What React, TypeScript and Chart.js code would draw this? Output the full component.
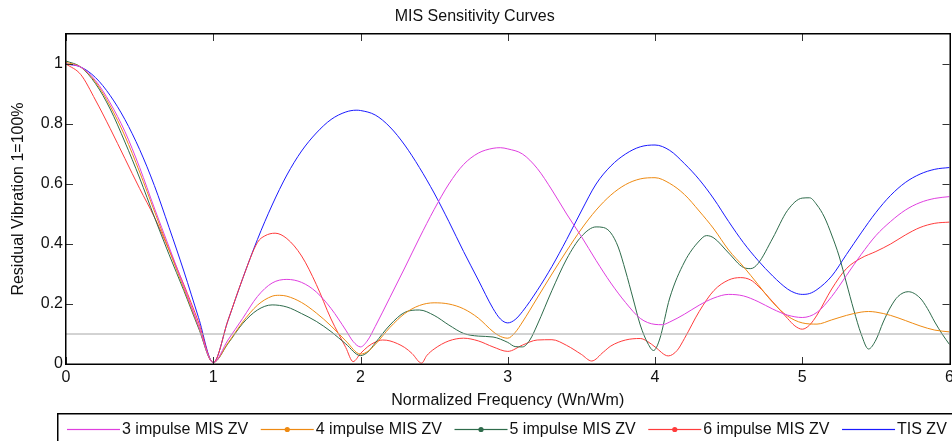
import React, { useEffect, useRef } from "react";
import { Chart, registerables } from "chart.js";

Chart.register(...registerables);

const FONT = '"Liberation Sans", Arial, Helvetica, sans-serif';

const titleText = "MIS Sensitivity Curves";
const xTitle = "Normalized Frequency (Wn/Wm)";
const yTitle = "Residual Vibration 1=100%";

const xTicks = [0, 1, 2, 3, 4, 5, 6];
const yTicks = [0, 0.2, 0.4, 0.6, 0.8, 1];
const thresholdLevel = 0.1;

const seriesNames = [
  "3 impulse MIS ZV",
  "4 impulse MIS ZV",
  "5 impulse MIS ZV",
  "6 impulse MIS ZV",
  "TIS ZV",
];

const mis3 = [
  [0, 1.0], [0.1, 0.99], [0.2, 0.945], [0.3, 0.87], [0.4, 0.775], [0.5, 0.655], [0.6, 0.52], [0.7, 0.39], [0.8, 0.26], [0.9, 0.128], [1.0, 0.005],
  [1.1, 0.08], [1.2, 0.152], [1.3, 0.225], [1.4, 0.27], [1.5, 0.282], [1.6, 0.272], [1.7, 0.24], [1.8, 0.185], [1.9, 0.113], [1.95, 0.075], [2.0, 0.057], [2.05, 0.08],
  [2.1, 0.125], [2.2, 0.222], [2.3, 0.32], [2.4, 0.42], [2.5, 0.515], [2.6, 0.6], [2.7, 0.665], [2.8, 0.703], [2.9, 0.719], [2.95, 0.721], [3.0, 0.717],
  [3.1, 0.7], [3.2, 0.652], [3.3, 0.58], [3.4, 0.5], [3.5, 0.425], [3.6, 0.345], [3.7, 0.27], [3.8, 0.205], [3.9, 0.152], [4.0, 0.132],
  [4.05, 0.131], [4.1, 0.14], [4.2, 0.166], [4.3, 0.196], [4.4, 0.22], [4.5, 0.232], [4.6, 0.227], [4.7, 0.208], [4.8, 0.183], [4.9, 0.163], [5.0, 0.155],
  [5.1, 0.172], [5.2, 0.225], [5.3, 0.295], [5.4, 0.365], [5.5, 0.428], [5.6, 0.475], [5.7, 0.513], [5.8, 0.538], [5.9, 0.552], [6.0, 0.558],
];

const mis4 = [
  [0, 1.005], [0.1, 0.99], [0.2, 0.94], [0.3, 0.86], [0.4, 0.76], [0.5, 0.64], [0.6, 0.51], [0.7, 0.38], [0.8, 0.252], [0.9, 0.125], [1.0, 0.005],
  [1.1, 0.07], [1.2, 0.14], [1.3, 0.196], [1.4, 0.226], [1.45, 0.229], [1.5, 0.226], [1.6, 0.205], [1.7, 0.17], [1.8, 0.127], [1.9, 0.077], [2.0, 0.033],
  [2.05, 0.042], [2.1, 0.065], [2.2, 0.122], [2.3, 0.168], [2.4, 0.195], [2.5, 0.204], [2.6, 0.2], [2.7, 0.184], [2.8, 0.153], [2.9, 0.108], [2.95, 0.092], [3.0, 0.086],
  [3.05, 0.105], [3.1, 0.14], [3.2, 0.22], [3.3, 0.3], [3.4, 0.377], [3.5, 0.45], [3.6, 0.513], [3.7, 0.563], [3.8, 0.598], [3.9, 0.617], [4.0, 0.621],
  [4.1, 0.602], [4.2, 0.565], [4.3, 0.51], [4.4, 0.45], [4.5, 0.38], [4.6, 0.325], [4.7, 0.265], [4.8, 0.205], [4.9, 0.16], [5.0, 0.137],
  [5.1, 0.133], [5.2, 0.147], [5.3, 0.162], [5.4, 0.173], [5.45, 0.175], [5.5, 0.173], [5.6, 0.162], [5.7, 0.145], [5.8, 0.127], [5.9, 0.113], [6.0, 0.107],
];

const mis5 = [
  [0, 1.01], [0.1, 0.99], [0.2, 0.935], [0.3, 0.85], [0.4, 0.74], [0.5, 0.62], [0.6, 0.49], [0.7, 0.365], [0.8, 0.245], [0.9, 0.12], [1.0, 0.005],
  [1.1, 0.068], [1.2, 0.135], [1.3, 0.18], [1.4, 0.197], [1.5, 0.19], [1.6, 0.168], [1.7, 0.142], [1.8, 0.108], [1.9, 0.067], [2.0, 0.028],
  [2.05, 0.04], [2.1, 0.07], [2.2, 0.13], [2.3, 0.172], [2.4, 0.18], [2.5, 0.162], [2.6, 0.13], [2.7, 0.102], [2.8, 0.093], [2.9, 0.09], [3.0, 0.072],
  [3.05, 0.058], [3.1, 0.057], [3.15, 0.08], [3.2, 0.13], [3.3, 0.245], [3.4, 0.35], [3.5, 0.425], [3.6, 0.457], [3.65, 0.455], [3.7, 0.437], [3.75, 0.39], [3.8, 0.31], [3.85, 0.22], [3.9, 0.13], [3.95, 0.07], [3.99, 0.045],
  [4.03, 0.08], [4.1, 0.22], [4.2, 0.34], [4.3, 0.41], [4.35, 0.428], [4.4, 0.42], [4.5, 0.37], [4.6, 0.322], [4.65, 0.318], [4.7, 0.335], [4.8, 0.42], [4.9, 0.512], [5.0, 0.553],
  [5.05, 0.554], [5.1, 0.53], [5.15, 0.49], [5.2, 0.43], [5.25, 0.36], [5.3, 0.27], [5.35, 0.18], [5.4, 0.1], [5.45, 0.05], [5.5, 0.08], [5.55, 0.14], [5.6, 0.19], [5.65, 0.225], [5.72, 0.241], [5.8, 0.22], [5.85, 0.185], [5.9, 0.14], [5.95, 0.1], [6.0, 0.065],
];

const mis6 = [
  [0, 1.0], [0.1, 0.965], [0.2, 0.88], [0.3, 0.785], [0.4, 0.685], [0.5, 0.585], [0.6, 0.49], [0.7, 0.38], [0.8, 0.265], [0.9, 0.14], [1.0, 0.005],
  [1.1, 0.145], [1.2, 0.285], [1.3, 0.405], [1.35, 0.427], [1.42, 0.436], [1.5, 0.418], [1.6, 0.36], [1.7, 0.265], [1.8, 0.15], [1.9, 0.055], [1.95, 0.008],
  [2.0, 0.035], [2.05, 0.058], [2.1, 0.073], [2.15, 0.08], [2.2, 0.077], [2.3, 0.055], [2.35, 0.035], [2.415, 0.003], [2.45, 0.028], [2.5, 0.05], [2.6, 0.077], [2.7, 0.086], [2.8, 0.077], [2.9, 0.057], [3.0, 0.042],
  [3.1, 0.063], [3.2, 0.08], [3.3, 0.081], [3.4, 0.062], [3.5, 0.032], [3.57, 0.01], [3.65, 0.04], [3.7, 0.06], [3.8, 0.08], [3.9, 0.085], [3.95, 0.075], [4.0, 0.057], [4.09, 0.027],
  [4.15, 0.045], [4.2, 0.085], [4.3, 0.175], [4.4, 0.245], [4.5, 0.28], [4.58, 0.288], [4.65, 0.28], [4.7, 0.26], [4.8, 0.207], [4.9, 0.152], [4.95, 0.127], [5.0, 0.116],
  [5.05, 0.13], [5.1, 0.163], [5.2, 0.25], [5.3, 0.318], [5.4, 0.353], [5.5, 0.375], [5.6, 0.4], [5.7, 0.43], [5.8, 0.455], [5.9, 0.469], [6.0, 0.473],
];

const tisZV = [
  [0, 1.0], [0.1, 0.99], [0.2, 0.955], [0.3, 0.895], [0.4, 0.815], [0.5, 0.715], [0.6, 0.595], [0.7, 0.455], [0.8, 0.31], [0.9, 0.155], [1.0, 0.005],
  [1.1, 0.145], [1.2, 0.285], [1.3, 0.415], [1.4, 0.53], [1.5, 0.63], [1.6, 0.71], [1.7, 0.77], [1.8, 0.815], [1.9, 0.84], [1.97, 0.846], [2.0, 0.845],
  [2.1, 0.83], [2.2, 0.79], [2.3, 0.73], [2.4, 0.655], [2.5, 0.57], [2.6, 0.475], [2.7, 0.375], [2.8, 0.28], [2.9, 0.185], [2.95, 0.15], [3.0, 0.137],
  [3.05, 0.148], [3.1, 0.175], [3.2, 0.245], [3.3, 0.325], [3.4, 0.415], [3.5, 0.51], [3.6, 0.6], [3.7, 0.66], [3.8, 0.7], [3.9, 0.724], [4.0, 0.73],
  [4.1, 0.712], [4.2, 0.668], [4.3, 0.615], [4.4, 0.55], [4.5, 0.475], [4.6, 0.405], [4.7, 0.345], [4.8, 0.293], [4.9, 0.25], [4.95, 0.237], [5.0, 0.232],
  [5.05, 0.235], [5.1, 0.248], [5.2, 0.293], [5.3, 0.365], [5.4, 0.437], [5.5, 0.505], [5.6, 0.562], [5.7, 0.605], [5.8, 0.633], [5.9, 0.649], [6.0, 0.655],
];

const seriesColors = ["#df3fdf", "#ee8a12", "#2e6b4b", "#ff3c3c", "#1a1aff"];
const seriesMarkers = [false, true, true, true, false];

export default function App() {
  const ref = useRef<HTMLCanvasElement | null>(null);

  useEffect(() => {
    const canvas = ref.current;
    if (!canvas) return;
    const toPts = (a: number[][]) => a.map(([x, y]) => ({ x, y }));
    const seriesData = [mis3, mis4, mis5, mis6, tisZV];

    const framePlugin = {
      id: "matlabFrame",
      afterDatasetsDraw(chart: any) {
        const { ctx, chartArea: a, scales } = chart;
        ctx.save();
        ctx.fillStyle = "#333";
        const tl = 7;
        xTicks.forEach((v) => {
          const px = Math.round(scales.x.getPixelForValue(v));
          ctx.fillRect(px, a.bottom - tl, 1, tl);
          ctx.fillRect(px, a.top, 1, tl);
        });
        yTicks.forEach((v) => {
          const py = Math.round(scales.y.getPixelForValue(v));
          ctx.fillRect(a.left, py, tl, 1);
          ctx.fillRect(a.right - tl, py, tl, 1);
        });
        ctx.fillStyle = "#000";
        const L = Math.round(a.left), R = Math.round(a.right), T = Math.round(a.top), B = Math.round(a.bottom);
        ctx.fillRect(L - 1, T - 1, R - L + 2, 1.5);
        ctx.fillRect(L - 1, B - 0.5, R - L + 2, 1.5);
        ctx.fillRect(L - 1, T - 1, 1.5, B - T + 2);
        ctx.fillRect(R - 0.5, T - 1, 1.5, B - T + 2);
        ctx.restore();
      },
      afterDraw(chart: any) {
        const { ctx } = chart;
        ctx.save();
        ctx.fillStyle = "#000";
        ctx.fillRect(57, 413, 900, 1.5);
        ctx.fillRect(57, 413, 1.5, 40);
        ctx.font = `16px ${FONT}`;
        ctx.textBaseline = "middle";
        ctx.textAlign = "left";
        const y = 429.5;
        let x = 67;
        seriesNames.forEach((name, i) => {
          const col = seriesColors[i];
          ctx.fillStyle = col;
          ctx.fillRect(x, y - 0.6, 53, 1.2);
          if (seriesMarkers[i]) {
            ctx.beginPath();
            ctx.arc(x + 26.5, y, 2.6, 0, Math.PI * 2);
            ctx.fill();
          }
          ctx.fillStyle = "#111";
          const tx = x + 55;
          ctx.fillText(name, tx, y);
          x = tx + ctx.measureText(name).width + 12.5;
        });
        ctx.restore();
      },
    };

    const datasets: any[] = [
      {
        label: "threshold",
        data: [
          { x: xTicks[0], y: thresholdLevel },
          { x: xTicks[xTicks.length - 1], y: thresholdLevel },
        ],
        borderColor: "#a6a6a6",
        borderWidth: 1,
        pointRadius: 0,
      },
      ...seriesNames.map((name, i) => ({
        label: name,
        data: toPts(seriesData[i]),
        borderColor: seriesColors[i],
        backgroundColor: seriesColors[i],
        borderWidth: 1,
        pointRadius: 0,
        cubicInterpolationMode: "monotone",
      })),
    ];

    const tickFont = { family: FONT, size: 16, weight: "normal" as const };

    const chart = new Chart(canvas, {
      type: "line",
      data: { datasets },
      plugins: [framePlugin],
      options: {
        animation: false,
        responsive: false,
        layout: { padding: { left: 0, right: 2.5, top: 0, bottom: 0 } },
        plugins: {
          legend: { display: false },
          tooltip: { enabled: false },
          title: {
            display: true,
            text: titleText,
            color: "#111",
            font: tickFont,
            padding: { top: 7, bottom: 7.8 },
          },
        },
        scales: {
          x: {
            type: "linear",
            min: 0,
            max: 6,
            grid: { display: false, drawTicks: false },
            border: { display: false },
            afterBuildTicks: (s: any) => {
              s.ticks = xTicks.map((v) => ({ value: v }));
            },
            afterFit: (s: any) => {
              s.height = 77;
              s.paddingLeft = 0;
              s.paddingRight = 0;
            },
            ticks: {
              color: "#111",
              font: tickFont,
              padding: 4,
              maxRotation: 0,
              autoSkip: false,
              callback: (v: any) => String(v),
            },
            title: {
              display: true,
              text: xTitle,
              color: "#111",
              font: tickFont,
              padding: { top: 0, bottom: 31 },
            },
          },
          y: {
            type: "linear",
            min: 0,
            max: 1.1,
            grid: { display: false, drawTicks: false },
            border: { display: false },
            afterBuildTicks: (s: any) => {
              s.ticks = yTicks.map((v) => ({ value: v }));
            },
            afterFit: (s: any) => {
              s.width = 66;
              s.paddingTop = 0;
              s.paddingBottom = 0;
            },
            ticks: {
              color: "#111",
              font: tickFont,
              padding: 3,
              autoSkip: false,
              callback: (v: any) => String(v),
            },
            title: {
              display: true,
              text: yTitle,
              color: "#111",
              font: tickFont,
              padding: { top: 9.4, bottom: 0 },
            },
          },
        },
      } as any,
    });

    return () => chart.destroy();
  }, []);

  return (
    <div style={{ position: "absolute", left: 0, top: 0, width: 952, height: 441, background: "#fff", overflow: "hidden" }}>
      <canvas ref={ref} width={952} height={441} style={{ display: "block", width: 952, height: 441 }} />
    </div>
  );
}
